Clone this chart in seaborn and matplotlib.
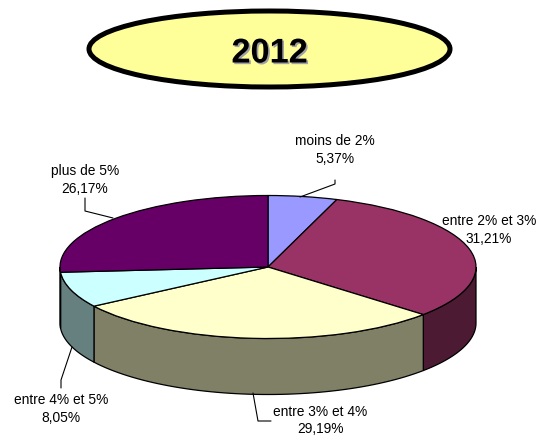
import numpy as np
import matplotlib
matplotlib.use("Agg")
import matplotlib.pyplot as plt
import matplotlib.patheffects as pe
from matplotlib.patches import Ellipse
import seaborn as sns

# Values, clockwise from 12 o'clock
categories = ["moins de 2%", "entre 2% et 3%", "entre 3% et 4%", "entre 4% et 5%", "plus de 5%"]
shares = [5.37, 31.21, 29.19, 8.05, 26.17]
share_labels = ["5,37%", "31,21%", "29,19%", "8,05%", "26,17%"]
top_colors = ["#9999FF", "#993366", "#FFFFCC", "#CCFFFF", "#660066"]
side_colors = ["#6B6BB3", "#4D1A33", "#808066", "#668080", "#330033"]
title = "2012"

# pie geometry in reference pixels
CX, CY, RX, RY, DEPTH = 268, 267, 208, 71.5, 56
W, H = 543, 436

sns.set_theme(style="white")
plt.rcParams["font.family"] = ["Liberation Sans", "DejaVu Sans"]


def px(x, y):
    # reference pixel -> data coordinates of the unit pie
    return (x - CX) / RX, (CY - y) / RY


fig = plt.figure(figsize=(W / 100, H / 100), dpi=100)
ax = fig.add_axes([0, 0, 1, 1])

ax.pie(shares, colors=top_colors, startangle=90, counterclock=False, radius=1,
       wedgeprops={"edgecolor": "black", "linewidth": 0.9, "zorder": 3})
ax.set_aspect("auto")
ax.set_xlim(px(0, 0)[0], px(W, 0)[0])
ax.set_ylim(px(0, H)[1], px(0, 0)[1])

# side wall: only the part of each slice on the front half
depth = DEPTH / RY
edges = np.cumsum([0] + shares) / sum(shares) * 360
for i in range(len(shares)):
    start, end = max(edges[i], 90), min(edges[i + 1], 270)
    if end <= start:
        continue
    t = np.radians(np.linspace(start, end, 60))
    xs = np.sin(t)
    ys = np.cos(t)
    ax.fill(np.r_[xs, xs[::-1]], np.r_[ys, ys[::-1] - depth],
            facecolor=side_colors[i], edgecolor="black", linewidth=0.9, zorder=2)

# labels and leader lines
label_pos = [(335, 141), (489, 221), (320, 411.5), (61, 400), (85, 171)]
leaders = [
    [(300, 197), (335, 184), (335, 180)],
    None,
    [(253, 393), (258, 421), (271, 421)],
    [(72, 347), (61, 380), (61, 388)],
    [(85, 198), (85, 211), (113, 218)],
]
for i, name in enumerate(categories):
    lx, ly = px(*label_pos[i])
    ax.text(lx, ly, name, ha="center", va="center", fontsize=9.9, color="black", zorder=5)
    lx, ly = px(label_pos[i][0], label_pos[i][1] + 17.5)
    ax.text(lx, ly, share_labels[i], ha="center", va="center", fontsize=9.9, color="black", zorder=5)
    if leaders[i]:
        pts = [px(*p) for p in leaders[i]]
        ax.plot([p[0] for p in pts], [p[1] for p in pts], color="black", lw=0.8, zorder=4)

# title badge
ex, ey = px(269.5, 49)
badge = Ellipse((ex, ey), 361 / RX, 76 / RY, facecolor="#FFFF99", edgecolor="black", linewidth=3.6, zorder=5)
ax.add_patch(badge)
ax.text(ex, px(0, 54)[1], title, ha="center", va="center", fontsize=24.7, fontweight="bold", color="black", zorder=6,
        path_effects=[pe.withSimplePatchShadow(offset=(1.2, -1.2), shadow_rgbFace="#8888aa", alpha=0.8)])

fig.savefig("out.png", dpi=100)
